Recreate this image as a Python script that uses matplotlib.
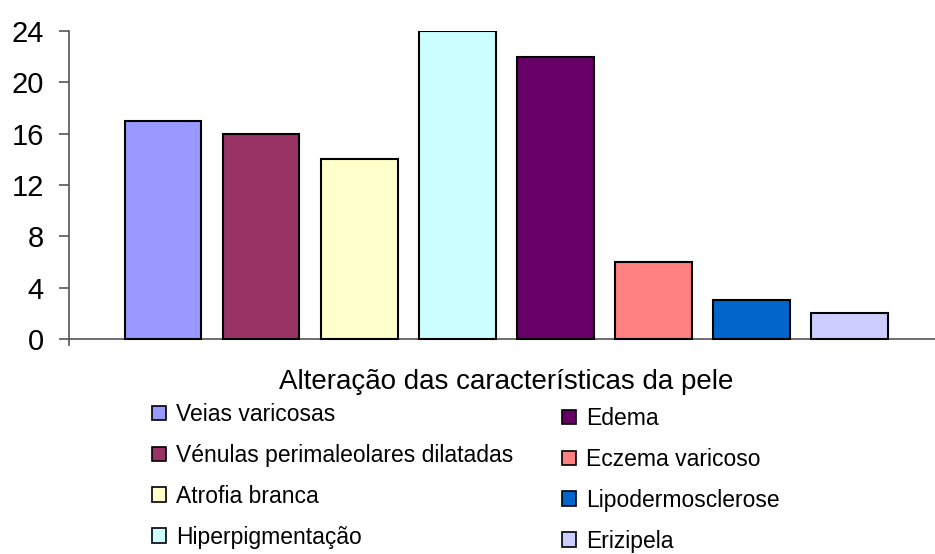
import matplotlib
matplotlib.use('Agg')
import matplotlib.pyplot as plt

# dados
categorias = ['Veias varicosas', 'Vénulas perimaleolares dilatadas', 'Atrofia branca',
              'Hiperpigmentação', 'Edema', 'Eczema varicoso', 'Lipodermosclerose', 'Erizipela']
valores = [17, 16, 14, 24, 22, 6, 3, 2]
cores = ['#9999FF', '#993366', '#FFFFCC', '#CCFFFF', '#660066', '#FF8080', '#0066CC', '#CCCCFF']
yticks = [0, 4, 8, 12, 16, 20, 24]

plt.rcParams['font.family'] = ['Liberation Sans', 'DejaVu Sans']

fig = plt.figure(figsize=(9.35, 5.54), dpi=100)
ax = fig.add_axes([69/935, 1-345.4/554, 1-69/935, (345.4-31)/554])

x = list(range(len(valores)))
barras = ax.bar(x, valores, width=0.78, color=cores, edgecolor='black', linewidth=1.5, zorder=3)

ax.set_xlim(-0.96, 7.87)
ax.set_ylim(-0.5, 24)
ax.set_yticks(yticks)
ax.set_yticklabels([str(v) for v in yticks], fontsize=21)
ax.tick_params(axis='y', direction='out', length=7, width=1.2, color='#555555', pad=11)
ax.set_xticks([])
for s in ['top', 'right', 'bottom']:
    ax.spines[s].set_visible(False)
ax.spines['left'].set_color('#555555')
ax.spines['left'].set_linewidth(1.2)
ax.spines['left'].set_bounds(-0.5, 24)
ax.axhline(0, color='#555555', linewidth=1.2, zorder=2)

fig.text(506/935, 1-382/554, 'Alteração das características da pele', fontsize=20,
         ha='center', va='center')

kw = dict(frameon=False, fontsize=16.5, handlelength=0.6, handleheight=0.6,
          handletextpad=0.45, labelspacing=0.78, borderpad=0, borderaxespad=0,
          loc='upper left')
leg1 = fig.legend(barras[:4], categorias[:4], bbox_to_anchor=(152/935, 1-403/554), **kw)
leg2 = fig.legend(barras[4:], categorias[4:], bbox_to_anchor=(562/935, 1-407/554), **kw)
for leg in (leg1, leg2):
    for h in leg.legend_handles:
        h.set_linewidth(1.2)

fig.savefig('out.png', dpi=100)
